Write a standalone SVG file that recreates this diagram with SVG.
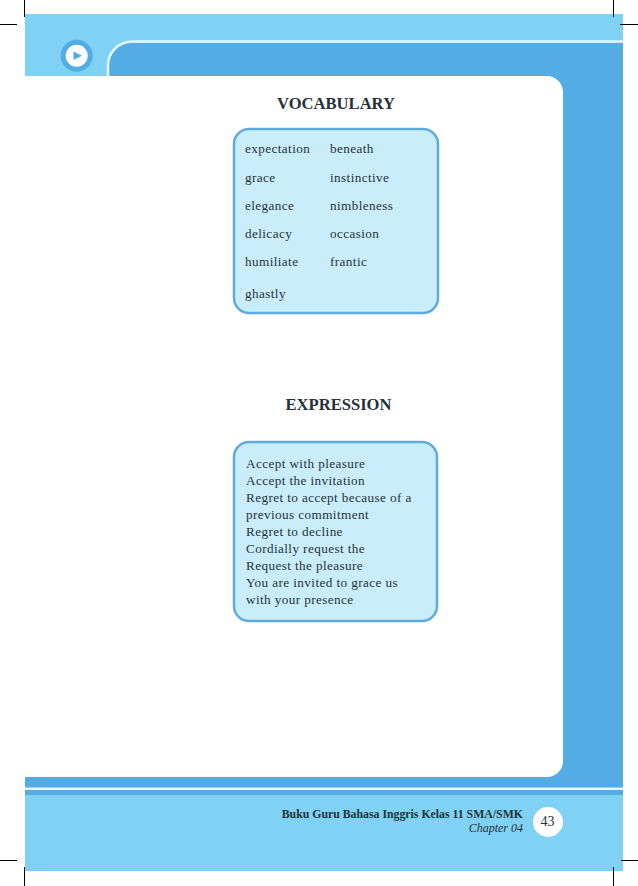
<svg xmlns="http://www.w3.org/2000/svg" width="638" height="886" viewBox="0 0 638 886">
<style>
text{font-family:"Liberation Serif","Times New Roman",serif;fill:#26323a}
.t{font-size:13.2px;letter-spacing:.4px}
.h{font-size:16.6px;font-weight:bold;text-anchor:middle}
.box{fill:#c9edfb;stroke:#5fabdc;stroke-width:2.5}
.crop{stroke:#000;stroke-width:1;fill:none}
</style>
<g id="page">
<rect x="25" y="14" width="598" height="857" fill="#7fd2f3"/>
<path d="M109 76V66A23 23 0 0 1 132 43H623V795H25V76Z" fill="#53ade4"/>
<path d="M108 76V66A24 24 0 0 1 132 41.500H623" fill="none" stroke="#e6f6fc" stroke-width="2.500"/>
<path d="M25 76H547A16 16 0 0 1 563 92V761A16 16 0 0 1 547 777H25Z" fill="#fff"/>
<rect x="25" y="787.500" width="598" height="2.500" fill="#e6f6fc"/>
<rect x="25" y="795" width="598" height="76" fill="#7fd2f3"/>
</g>
<g id="play-icon">
<circle cx="76.700" cy="55.700" r="16" fill="#53ade4"/>
<circle cx="76.700" cy="55.700" r="11" fill="#fff"/>
<path d="M73.500 51.500L82 55.800L73.500 60Z" fill="#53ade4"/>
</g>
<g id="crop-marks">
<path class="crop" d="M24.500 0V17M0 24.500H17M613.500 0V17M620 24.500H638M0 860.500H17M24.500 867V886M621 860.500H638M613.500 867V886"/>
</g>
<g id="vocabulary">
<text class="h" x="336" y="109">VOCABULARY</text>
<rect class="box" x="234" y="129" width="204" height="184" rx="15"/>
<text class="t" x="245" y="153">expectation</text>
<text class="t" x="330" y="153">beneath</text>
<text class="t" x="245" y="182">grace</text>
<text class="t" x="330" y="182">instinctive</text>
<text class="t" x="245" y="210">elegance</text>
<text class="t" x="330" y="210">nimbleness</text>
<text class="t" x="245" y="238">delicacy</text>
<text class="t" x="330" y="238">occasion</text>
<text class="t" x="245" y="266">humiliate</text>
<text class="t" x="330" y="266">frantic</text>
<text class="t" x="245" y="298">ghastly</text>
</g>
<g id="expression">
<text class="h" x="338.500" y="410">EXPRESSION</text>
<rect class="box" x="234" y="442" width="203" height="179" rx="15"/>
<text class="t" x="246" y="468">Accept with pleasure</text>
<text class="t" x="246" y="485">Accept the invitation</text>
<text class="t" x="246" y="502">Regret to accept because of a</text>
<text class="t" x="246" y="519">previous commitment</text>
<text class="t" x="246" y="536">Regret to decline</text>
<text class="t" x="246" y="553">Cordially request the</text>
<text class="t" x="246" y="570">Request the pleasure</text>
<text class="t" x="246" y="587">You are invited to grace us</text>
<text class="t" x="246" y="604">with your presence</text>
</g>
<g id="footer">
<text x="523" y="818" font-size="11.800" font-weight="bold" text-anchor="end">Buku Guru Bahasa Inggris Kelas 11 SMA/SMK</text>
<text x="523" y="832" font-size="12" font-style="italic" text-anchor="end">Chapter 04</text>
<circle cx="548" cy="822" r="15" fill="#fff"/>
<text x="547.500" y="826" font-size="14" text-anchor="middle">43</text>
</g>
</svg>
